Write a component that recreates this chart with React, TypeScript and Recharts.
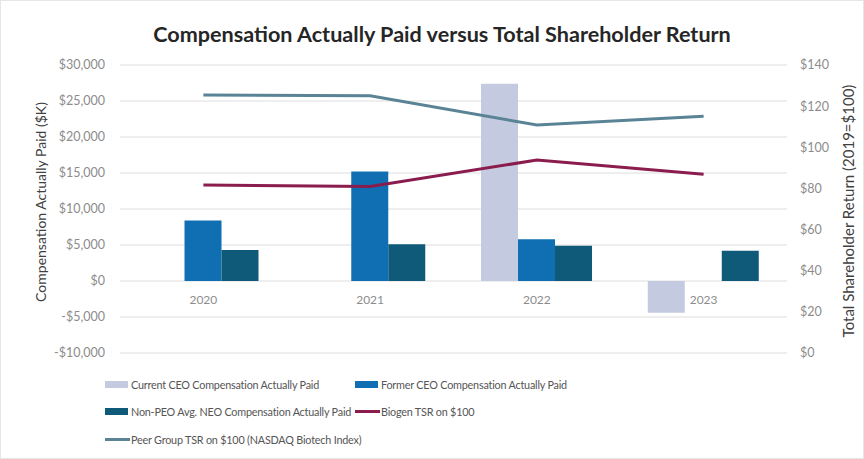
import React from 'react';
import { ComposedChart, Bar, Line, XAxis, YAxis, CartesianGrid, Legend } from 'recharts';

const years = ['2020', '2021', '2022', '2023'];
const currentCeo = [null, null, 27400, -4400];
const formerCeo = [8400, 15200, 5800, null];
const nonPeo = [4300, 5100, 4900, 4200];
const biogenTsr = [81.7, 80.9, 93.8, 86.9];
const peerTsr = [125.4, 125.1, 110.8, 115.1];
const leftTicks = [-10000, -5000, 0, 5000, 10000, 15000, 20000, 25000, 30000];
const rightTicks = [0, 20, 40, 60, 80, 100, 120, 140];

const data = years.map((y, i) => ({
  year: y,
  current: currentCeo[i],
  former: formerCeo[i],
  nonPeo: nonPeo[i],
  biogen: biogenTsr[i],
  peer: peerTsr[i],
}));

const C_CURRENT = '#c4cbe0';
const C_FORMER = '#0f6fb2';
const C_NONPEO = '#0f5a78';
const C_BIOGEN = '#8a1c4e';
const C_PEER = '#5a8496';
const FONT = 'Lato, "Liberation Sans", sans-serif';

const legendItems = [
  { label: 'Current CEO Compensation Actually Paid', color: C_CURRENT, kind: 'bar', col: 0, row: 0 },
  { label: 'Former CEO Compensation Actually Paid', color: C_FORMER, kind: 'bar', col: 1, row: 0 },
  { label: 'Non-PEO Avg. NEO Compensation Actually Paid', color: C_NONPEO, kind: 'bar', col: 0, row: 1 },
  { label: 'Biogen TSR on $100', color: C_BIOGEN, kind: 'line', col: 1, row: 1 },
  { label: 'Peer Group TSR on $100 (NASDAQ Biotech Index)', color: C_PEER, kind: 'line', col: 0, row: 2 },
];

const fmtMoney = (v: number) => {
  const s = '$' + Math.abs(v).toLocaleString('en-US');
  return v < 0 ? '-' + s : s;
};

const renderLegend = () => (
  <div style={{ position: 'relative', width: 864, height: 90, fontFamily: FONT }}>
    {legendItems.map((it) => (
      <div
        key={it.label}
        style={{
          position: 'absolute',
          left: it.col === 0 ? 105 : 355,
          top: 15 + it.row * 27.5 - 8,
          height: 16,
          display: 'flex',
          alignItems: 'center',
          whiteSpace: 'nowrap',
        }}
      >
        <span
          style={{
            display: 'inline-block',
            width: it.kind === 'bar' ? 23 : 25,
            height: it.kind === 'bar' ? 7 : 3,
            background: it.color,
            marginRight: it.kind === 'bar' ? 3 : 1,
          }}
        />
        <span style={{ fontSize: 10.8, letterSpacing: -0.2, color: '#555555' }}>{it.label}</span>
      </div>
    ))}
  </div>
);

const XTick = (props: any) => {
  const { x, y, payload } = props;
  return (
    <text x={x} y={y - 57} textAnchor="middle" fill="#8c8c8c" fontSize={12} fontFamily={FONT}>
      {payload.value}
    </text>
  );
};

export default function App() {
  return (
    <div
      style={{
        position: 'absolute',
        left: 0,
        top: 0,
        width: 864,
        height: 459,
        background: '#ffffff',
        boxSizing: 'border-box',
        border: '1px solid #e6e6e6',
      }}
    >
      <div
        style={{
          position: 'absolute',
          left: 9,
          top: 20,
          width: 864,
          textAlign: 'center',
          fontFamily: FONT,
          fontWeight: 700,
          fontSize: 21.6,
          lineHeight: '26px',
          color: '#262626',
        }}
      >
        Compensation Actually Paid versus Total Shareholder Return
      </div>
      <div style={{ position: 'absolute', left: -1, top: -1 }}>
        <ComposedChart
          width={864}
          height={459}
          data={data}
          margin={{ top: 65, right: 0, bottom: 0, left: 0 }}
          barGap={0}
          barCategoryGap="16.5%"
        >
          <CartesianGrid yAxisId="left" vertical={false} stroke="#dedede" strokeWidth={1} />
          <XAxis
            dataKey="year"
            height={16}
            axisLine={false}
            tickLine={false}
            tick={<XTick />}
            interval={0}
          />
          <YAxis
            yAxisId="left"
            width={120}
            domain={[-10000, 30000]}
            ticks={leftTicks}
            interval={0}
            axisLine={false}
            tickLine={false}
            tickSize={0}
            tickMargin={15}
            tickFormatter={fmtMoney}
            tick={{ fill: '#8c8c8c', fontSize: 12.5, fontFamily: FONT }}
            label={{
              content: (p: any) => {
                const vb = p.viewBox;
                const cx = vb.x + 40;
                const cy = vb.y + vb.height / 2 - 7;
                return (
                  <text
                    x={cx}
                    y={cy}
                    transform={`rotate(-90 ${cx} ${cy})`}
                    textAnchor="middle"
                    dominantBaseline="central"
                    fill="#404040"
                    fontSize={14}
                    fontFamily={FONT}
                  >
                    Compensation Actually Paid ($K)
                  </text>
                );
              },
            }}
          />
          <YAxis
            yAxisId="right"
            orientation="right"
            width={77}
            domain={[0, 140]}
            ticks={rightTicks}
            interval={0}
            axisLine={false}
            tickLine={false}
            tickSize={0}
            tickMargin={13}
            tickFormatter={(v: number) => '$' + v}
            tick={{ fill: '#8c8c8c', fontSize: 12.5, fontFamily: FONT, textAnchor: 'start' }}
            label={{
              content: (p: any) => {
                const vb = p.viewBox;
                const cx = vb.x + 61;
                const cy = vb.y + vb.height / 2 + 2;
                return (
                  <text
                    x={cx}
                    y={cy}
                    transform={`rotate(-90 ${cx} ${cy})`}
                    textAnchor="middle"
                    dominantBaseline="central"
                    fill="#404040"
                    fontSize={15}
                    fontFamily={FONT}
                  >
                    Total Shareholder Return (2019=$100)
                  </text>
                );
              },
            }}
          />
          <Legend verticalAlign="bottom" content={renderLegend} wrapperStyle={{ left: 0, bottom: 0, width: 864, height: 90 }} />
          <Bar yAxisId="left" dataKey="current" fill={C_CURRENT} isAnimationActive={false} />
          <Bar yAxisId="left" dataKey="former" fill={C_FORMER} isAnimationActive={false} />
          <Bar yAxisId="left" dataKey="nonPeo" fill={C_NONPEO} isAnimationActive={false} />
          <Line yAxisId="right" dataKey="biogen" stroke={C_BIOGEN} strokeWidth={3} dot={false} isAnimationActive={false} />
          <Line yAxisId="right" dataKey="peer" stroke={C_PEER} strokeWidth={3} dot={false} isAnimationActive={false} />
        </ComposedChart>
      </div>
    </div>
  );
}
